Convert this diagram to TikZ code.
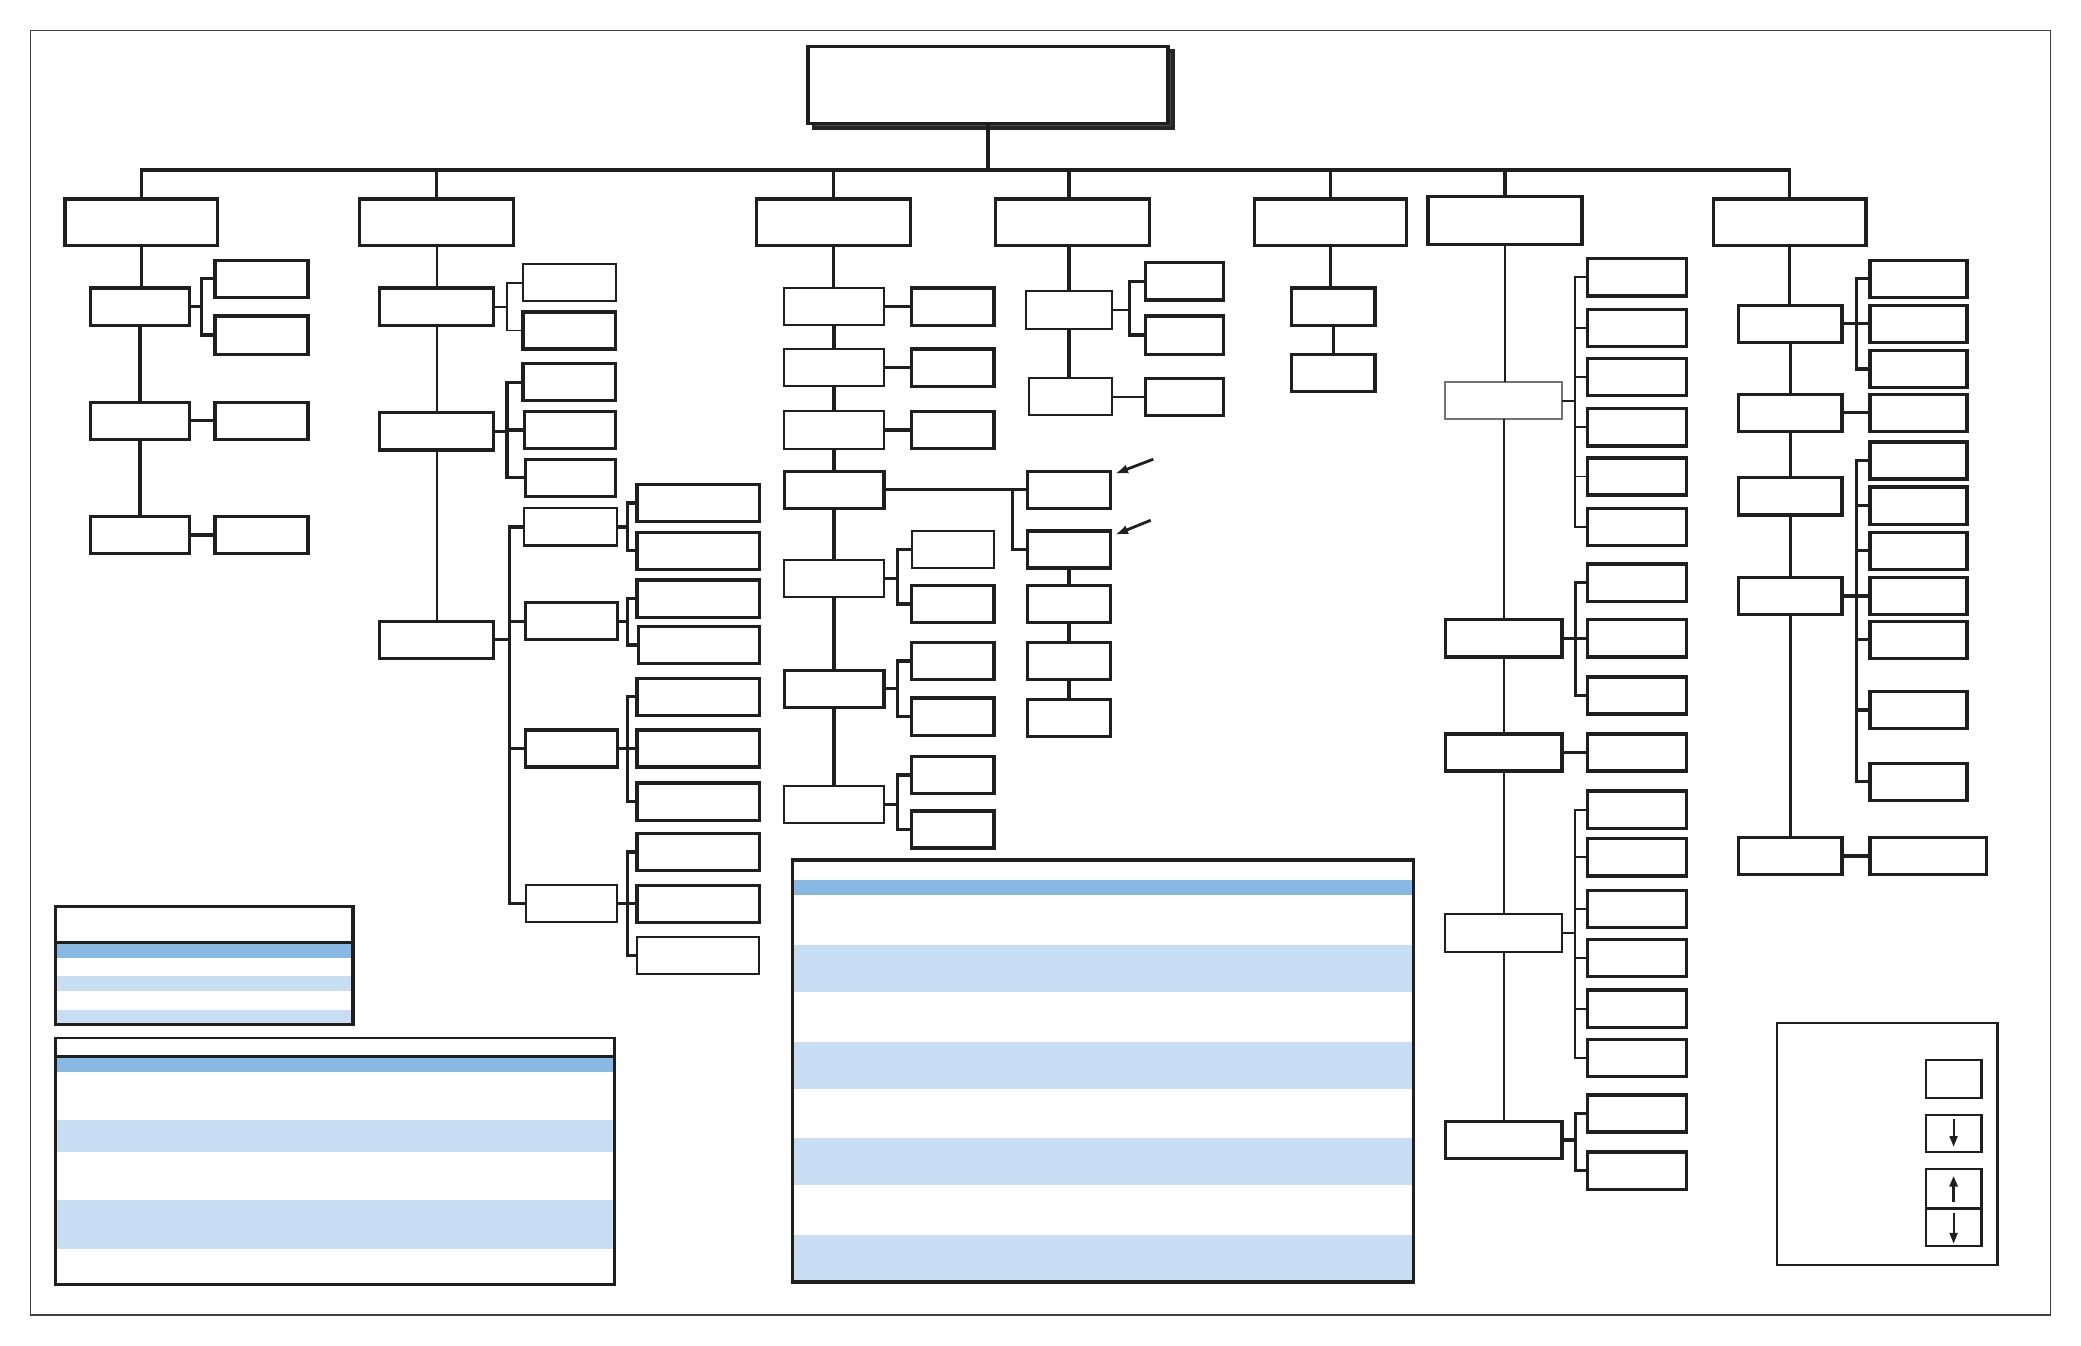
\documentclass[tikz,border=0pt]{standalone}
\usepackage{xcolor}
\usepackage{tikz}
\usetikzlibrary{arrows.meta,calc,positioning,fit,shadows}
\newcommand{\LeafH}{28}
\newcommand{\BarGap}{10}
\definecolor{rowdark}{HTML}{88B8E4}
\definecolor{rowlight}{HTML}{C8DEF4}
\tikzset{
  box/.style={draw=black!88,line width=0.7pt,fill=white,inner sep=0pt,outer sep=0pt},
  thinbox/.style={box,line width=0.45pt},
  link/.style={draw=black!88,line width=0.7pt},
  thinlink/.style={draw=black!88,line width=0.4pt},
  pointer/.style={draw=black!88,line width=0.6pt,-{Latex[length=1mm,width=0.7mm]}},
  legarrow/.style={draw=black!88,line width=0.4pt,-{Triangle[length=0.8mm,width=0.6mm]}},
}
\begin{document}
\begin{tikzpicture}[x=0.1mm,y=-0.1mm]
\useasboundingbox (0,0) rectangle (1568,1014);
\draw[line width=0.35pt,black!75] (23,23) rectangle (1545,991);

% head and bus
\node[box,line width=0.8pt,fit={(609,35) (880,93)},
  drop shadow={shadow xshift=0.4mm,shadow yshift=-0.35mm,fill=black!70,draw=black!85,opacity=1}] (title) {};
\coordinate (bus) at (744.5,128);
\node[box,fit={(49,150) (164,185)}] (t1) {};
\node[box,fit={(271,150) (387,185)}] (t2) {};
\node[box,fit={(570,150) (686,185)}] (t3) {};
\node[box,fit={(750,150) (866,185)}] (t4) {};
\node[box,fit={(945,150) (1060,185)}] (t5) {};
\node[box,fit={(1076,148) (1192,184)}] (t6) {};
\node[box,fit={(1291,150) (1406,185)}] (t7) {};
\draw[link] (title.south) -- (bus);
\draw[link] (t1.north) |- (bus) -| (t7.north);
\foreach \n in {t2,t3,t5,t6} \draw[link] (\n.north) -- (\n.north |- bus);

% column 1
\node[box,fit={(68,217) (143,245)}] (s1a) {};
\node[box,fit={(68,303) (143,331)}] (s1b) {};
\node[box,fit={(68,389) (143,417)}] (s1c) {};
\node[box,fit={(162,196) (232,224)}] (s1a1) {};
\node[box,fit={(162,238) (232,267)}] (s1a2) {};
\node[box,fit={(162,303) (232,331)}] (s1b1) {};
\node[box,fit={(162,389) (232,417)}] (s1c1) {};
\foreach \a/\b in {t1/s1a,s1a/s1b,s1b/s1c} \draw[link] (\a.south) -- (\a.south |- \b.north);
\draw[link] (s1a.east) -- ++(9,0) |- (s1a1.west);
\draw[link] (s1a.east) ++(9,0) |- (s1a2.west);
\draw[link] (s1b.east) -- (s1b1.west);
\draw[link] (s1c.east) -- (s1c1.west);

% column 2
\node[box,fit={(286,217) (372,245)}] (s2a) {};
\node[box,fit={(286,311) (372,339)}] (s2b) {};
\node[box,fit={(286,468) (372,496)}] (s2c) {};
\foreach \a/\b in {t2/s2a,s2a/s2b,s2b/s2c} \draw[thinlink] (\a.south) -- (\a.south |- \b.north);
\node[thinbox,fit={(394,199) (464,227)}] (s2a1) {};
\node[box,fit={(394,235) (464,263)}] (s2a2) {};
\node[box,fit={(394,274) (464,302)}] (s2b1) {};
\node[box,fit={(395,310) (464,338)}] (s2b2) {};
\node[box,fit={(396,346) (464,374)}] (s2b3) {};
\foreach \i in {1,2} \draw[thinlink] (s2a.east) -- ++(\BarGap,0) |- (s2a\i.west);
\foreach \i in {1,2,3} \draw[link] (s2b.east) -- ++(\BarGap,0) |- (s2b\i.west);
\node[thinbox,fit={(395,383) (465,411)}] (s2c1) {};
\node[box,fit={(396,454) (465,482)}] (s2c2) {};
\node[box,fit={(396,550) (465,578)}] (s2c3) {};
\node[thinbox,fit={(396,667) (465,695)}] (s2c4) {};
\foreach \i in {1,...,4} \draw[link] (s2c.east) -- ++(12,0) |- (s2c\i.west);
\node[box,fit={(480,365) (572,393)}] (s2c1a) {};
\node[box,fit={(480,401) (572,429)}] (s2c1b) {};
\node[box,fit={(480,437) (572,465)}] (s2c2a) {};
\node[box,fit={(481,472) (572,500)}] (s2c2b) {};
\node[box,fit={(480,511) (572,539)}] (s2c3a) {};
\node[box,fit={(480,550) (572,578)}] (s2c3b) {};
\node[box,fit={(480,590) (572,618)}] (s2c3c) {};
\node[box,fit={(480,628) (572,656)}] (s2c4a) {};
\node[box,fit={(480,667) (572,695)}] (s2c4b) {};
\node[thinbox,fit={(480,706) (572,734)}] (s2c4c) {};
\foreach \p/\c in {s2c1/s2c1a,s2c1/s2c1b,s2c2/s2c2a,s2c2/s2c2b,s2c3/s2c3a,s2c3/s2c3b,s2c3/s2c3c,s2c4/s2c4a,s2c4/s2c4b,s2c4/s2c4c}
  \draw[link] (\p.east) -- ++(8,0) |- (\c.west);

% column 3
\node[thinbox,fit={(591,217) (666,245)}] (s3a) {};
\node[thinbox,fit={(591,263) (666,291)}] (s3b) {};
\node[thinbox,fit={(591,310) (666,338)}] (s3c) {};
\node[box,fit={(591,355) (666,383)}] (s3d) {};
\node[thinbox,fit={(591,422) (666,450)}] (s3e) {};
\node[box,fit={(591,505) (666,533)}] (s3f) {};
\node[thinbox,fit={(591,592) (666,620)}] (s3g) {};
\foreach \a/\b in {t3/s3a,s3a/s3b,s3b/s3c,s3c/s3d,s3d/s3e,s3e/s3f,s3f/s3g} \draw[link] (\a.south) -- (\a.south |- \b.north);
\node[box,fit={(687,217) (749,245)}] (s3a1) {};
\node[box,fit={(687,263) (749,291)}] (s3b1) {};
\node[box,fit={(687,310) (749,338)}] (s3c1) {};
\foreach \n in {s3a,s3b,s3c} \draw[link] (\n.east) -- (\n1.west);
\node[box,fit={(774,355) (837,383)}] (s3d1) {};
\node[box,fit={(774,400) (837,428)}] (s3d2) {};
\node[box,fit={(774,441) (837,469)}] (s3d3) {};
\node[box,fit={(774,484) (837,512)}] (s3d4) {};
\node[box,fit={(774,527) (837,555)}] (s3d5) {};
\draw[link] (s3d.east) -- (s3d1.west);
\draw[link] (s3d.east) ++(97,0) |- (s3d2.west);
\foreach \a/\b in {s3d2/s3d3,s3d3/s3d4,s3d4/s3d5} \draw[link] (\a.south) -- (\a.south |- \b.north);
\coordinate (p1) at (869,346);
\coordinate (p2) at (867,392);
\draw[pointer] (p1) -- ([shift={(3,2)}]s3d1.north east);
\draw[pointer] (p2) -- ([shift={(3,3)}]s3d2.north east);
\node[thinbox,fit={(687,400) (749,428)}] (s3e1) {};
\node[box,fit={(687,441) (749,469)}] (s3e2) {};
\node[box,fit={(687,484) (749,512)}] (s3f1) {};
\node[box,fit={(687,526) (749,554)}] (s3f2) {};
\node[box,fit={(687,570) (749,598)}] (s3g1) {};
\node[box,fit={(687,611) (749,639)}] (s3g2) {};
\foreach \p in {s3e,s3f,s3g} {
  \draw[link] (\p.east) -- ++(\BarGap,0) |- (\p1.west);
  \draw[link] (\p.east) ++(\BarGap,0) |- (\p2.west);
}

% column 4
\node[thinbox,fit={(773,219) (838,248)}] (s4a) {};
\node[thinbox,fit={(775,285) (838,313)}] (s4b) {};
\draw[link] (t4.north -| s4a.north) -- (bus -| s4a.north);
\draw[link] (t4.south -| s4a.north) -- (s4a.north);
\draw[link] (s4a.south) -- (s4a.south |- s4b.north);
\node[box,fit={(863,198) (922,226)}] (s4a1) {};
\node[box,fit={(863,238) (922,267)}] (s4a2) {};
\node[box,fit={(863,285) (922,313)}] (s4b1) {};
\draw[thinlink] (s4a.east) -- ++(13,0);
\foreach \i in {1,2} \draw[link] (s4a.east) ++(13,0) |- (s4a\i.west);
\draw[thinlink] (s4b.east) -- (s4b1.west);

% column 5
\node[box,fit={(973,217) (1036,245)}] (s5a) {};
\node[box,fit={(973,267) (1036,295)}] (s5b) {};
\foreach \a/\b in {t5/s5a,s5a/s5b} \draw[link] (\a.south) -- (\a.south |- \b.north);

% column 6
\node[thinbox,draw=black!55,fit={(1089,288) (1177,316)}] (s6a) {};
\node[box,fit={(1089,467) (1177,495)}] (s6b) {};
\node[box,fit={(1089,553) (1177,581)}] (s6c) {};
\node[thinbox,fit={(1089,689) (1177,717)}] (s6d) {};
\node[box,fit={(1089,845) (1177,873)}] (s6e) {};
\foreach \a/\b in {t6/s6a,s6a/s6b,s6b/s6c,s6c/s6d,s6d/s6e} \draw[thinlink] (\a.south) -- (\a.south |- \b.north);
\foreach \y [count=\i] in {195,233,270,308,345,383} {
  \node[box,fit={(1196,\y) (1271,\y+\LeafH)}] (s6a\i) {};
  \draw[thinlink] (s6a.east) -- ++(\BarGap,0) |- (s6a\i.west);
}
\foreach \y [count=\i] in {425,467,510} {
  \node[box,fit={(1196,\y) (1271,\y+\LeafH)}] (s6b\i) {};
  \draw[link] (s6b.east) -- ++(\BarGap,0) |- (s6b\i.west);
}
\node[box,fit={(1196,553) (1271,581)}] (s6c1) {};
\draw[link] (s6c.east) -- (s6c1.west);
\foreach \y [count=\i] in {596,632,671,708,746,783} {
  \node[box,fit={(1196,\y) (1271,\y+\LeafH)}] (s6d\i) {};
  \draw[thinlink] (s6d.east) -- ++(\BarGap,0) |- (s6d\i.west);
}
\foreach \y [count=\i] in {825,868} {
  \node[box,fit={(1196,\y) (1271,\y+\LeafH)}] (s6e\i) {};
  \draw[link] (s6e.east) -- ++(\BarGap,0) |- (s6e\i.west);
}

% column 7
\node[box,fit={(1310,230) (1388,258)}] (s7a) {};
\node[box,fit={(1310,297) (1388,325)}] (s7b) {};
\node[box,fit={(1310,360) (1388,388)}] (s7c) {};
\node[box,fit={(1310,435) (1388,463)}] (s7d) {};
\node[box,fit={(1310,631) (1388,659)}] (s7e) {};
\foreach \a/\b in {t7/s7a,s7a/s7b,s7b/s7c,s7c/s7d,s7d/s7e} \draw[link] (\a.south) -- (\a.south |- \b.north);
\foreach \y [count=\i] in {196,230,264} {
  \node[box,fit={(1409,\y) (1482,\y+\LeafH)}] (s7a\i) {};
  \draw[link] (s7a.east) -- ++(11,0) |- (s7a\i.west);
}
\node[box,fit={(1409,297) (1482,325)}] (s7b1) {};
\draw[link] (s7b.east) -- (s7b1.west);
\foreach \y [count=\i] in {333,367,401,435,468,521,575} {
  \node[box,fit={(1409,\y) (1482,\y+\LeafH)}] (s7d\i) {};
  \draw[link] (s7d.east) -- ++(11,0) |- (s7d\i.west);
}
\node[box,fit={(1409,631) (1497,659)}] (s7e1) {};
\draw[link] (s7e.east) -- (s7e1.west);

% tables
\fill[rowdark] (42,710) rectangle (266,721.5);
\fill[rowlight] (42,735.5) rectangle (266,746.8);
\fill[rowlight] (42,760.7) rectangle (266,772);
\draw[line width=0.7pt,black!88] (42,683) rectangle (266,772);
\draw[line width=0.7pt,black!88] (42,710) -- (266,710);

\fill[rowdark] (42,796.3) rectangle (463,807.5);
\fill[rowlight] (42,843.8) rectangle (463,868.3);
\fill[rowlight] (42,904.5) rectangle (463,941.3);
\draw[line width=0.55pt,black!88] (42,782) rectangle (463,968);
\draw[line width=0.7pt,black!88] (42,796.3) -- (463,796.3);

\fill[rowdark] (597,663.3) rectangle (1065,674.3);
\foreach \y in {712.2,784.9,857.6,930.3} \fill[rowlight] (597,\y) rectangle (1065,\y+35.4);
\draw[line width=0.7pt,black!88] (597,648) rectangle (1065,966);

% legend
\draw[line width=0.5pt,black!88] (1339,771) rectangle (1505,953);
\node[thinbox,fit={(1451,799) (1493,827)}] (lg1) {};
\node[thinbox,fit={(1451,840) (1493,868)}] (lg2) {};
\node[thinbox,fit={(1451,881) (1493,910)}] (lg3) {};
\node[thinbox,fit={(1451,911) (1493,939)}] (lg4) {};
\draw[legarrow] ([yshift=-0.3mm]lg2.north) -- ([yshift=0.4mm]lg2.south);
\draw[legarrow,line width=0.7pt] ([yshift=0.4mm]lg3.south) -- ([yshift=-0.5mm]lg3.north);
\draw[legarrow] ([yshift=-0.3mm]lg4.north) -- ([yshift=0.2mm]lg4.south);
\end{tikzpicture}
\end{document}
